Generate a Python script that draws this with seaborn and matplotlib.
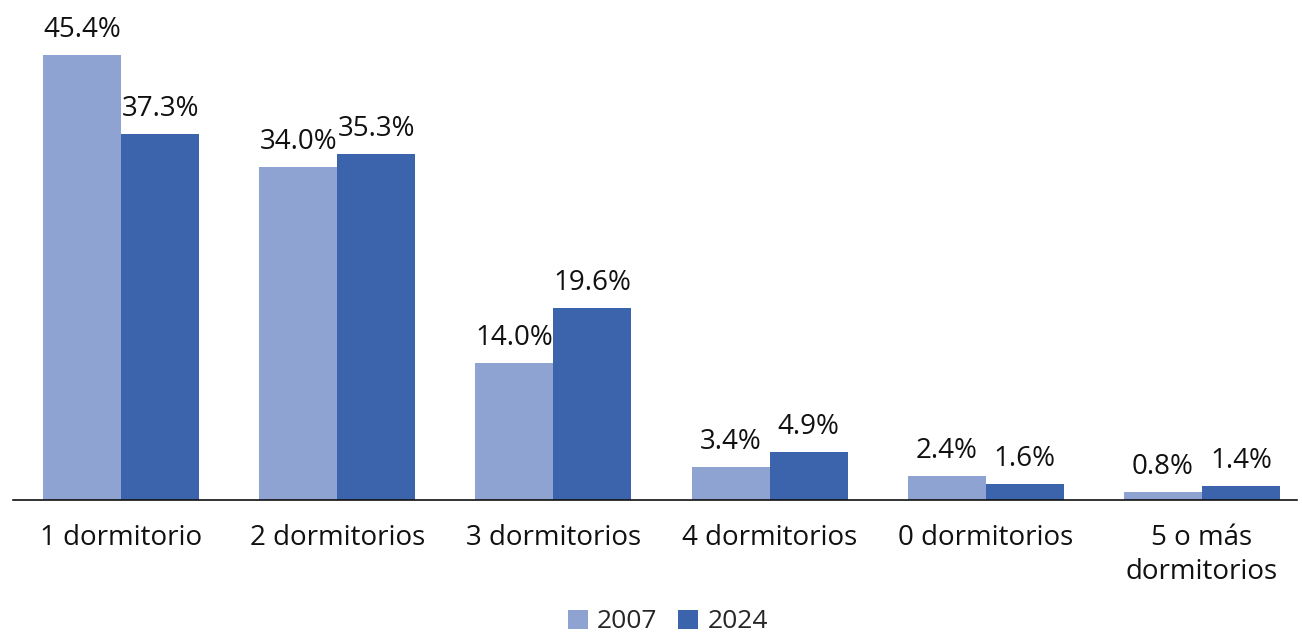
import matplotlib
matplotlib.use("Agg")
import matplotlib.pyplot as plt
import seaborn as sns
import pandas as pd

categories = ["1 dormitorio", "2 dormitorios", "3 dormitorios", "4 dormitorios", "0 dormitorios", "5 o más\ndormitorios"]
years = ["2007", "2024"]
values_2007 = [45.4, 34.0, 14.0, 3.4, 2.4, 0.8]
values_2024 = [37.3, 35.3, 19.6, 4.9, 1.6, 1.4]
colors = ["#8FA3D3", "#3C64AC"]

df = pd.DataFrame({
    "cat": categories * 2,
    "year": [years[0]] * len(categories) + [years[1]] * len(categories),
    "val": values_2007 + values_2024,
})

sns.set_theme(style="white")
plt.rcParams["font.family"] = ["Open Sans", "DejaVu Sans"]

fig = plt.figure(figsize=(13.02, 6.38), dpi=100)
ax = fig.add_axes([13/1302, 1 - 500/638, 1284/1302, 500/638])
sns.barplot(data=df, x="cat", y="val", hue="year", palette=colors, width=0.722,
            gap=0, saturation=1, ax=ax, legend=True, linewidth=0)
for c in ax.containers:
    ax.bar_label(c, labels=[f"{v:.1f}%" for v in c.datavalues], padding=8, fontsize=20, color="#111111")

ax.set_ylim(0, 51.0)
ax.set_xlim(-0.5, 5.44)
ax.set_yticks([])
ax.set_xlabel("")
ax.set_ylabel("")
for s in ["top", "right", "left"]:
    ax.spines[s].set_visible(False)
ax.spines["bottom"].set_color("#111111")
ax.spines["bottom"].set_linewidth(1.2)
ax.tick_params(axis="x", labelsize=20, pad=17, length=0, labelcolor="#111111")
for t in ax.get_xticklabels():
    t.set_linespacing(1.3)
    t.set_verticalalignment("top")

handles, labels = ax.get_legend_handles_labels()
ax.get_legend().remove()
fig.legend(handles, labels, loc="center", bbox_to_anchor=(0.513, 1 - 622/638), ncol=2, frameon=False,
           fontsize=19, handlelength=0.75, handleheight=0.75, handletextpad=0.35,
           columnspacing=0.8, borderpad=0)
fig.savefig("out.png", dpi=100, facecolor="white")
